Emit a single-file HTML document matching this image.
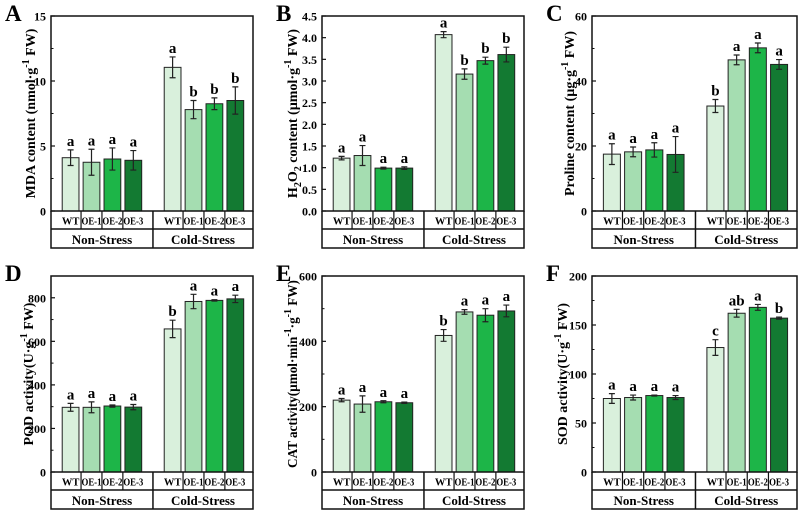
<!DOCTYPE html>
<html><head><meta charset="utf-8">
<style>
html,body{margin:0;padding:0;background:#fff;}
svg{display:block;font-family:"Liberation Serif",serif;font-weight:bold;}
</style></head>
<body>
<svg id="fig" width="799" height="518" viewBox="0 0 799 518"></svg>
<script>
const genotypes = ["WT","OE-1","OE-2","OE-3"];
const conditions = ["Non-Stress","Cold-Stress"];
const colors = ["#d9f0dc","#a5ddb1","#1db548","#137a32"];

const mdaValues = [[4.1,3.75,4.0,3.9],[11.05,7.8,8.25,8.5]];
const mdaErrors = [[0.6,1.0,0.85,0.75],[0.8,0.7,0.45,1.05]];
const mdaLetters = [["a","a","a","a"],["a","b","b","b"]];
const mdaTicks = [0,5,10,15];

const h2o2Values = [[1.22,1.28,0.99,0.99],[4.07,3.16,3.47,3.61]];
const h2o2Errors = [[0.04,0.23,0.02,0.03],[0.07,0.12,0.08,0.17]];
const h2o2Letters = [["a","a","a","a"],["a","b","b","b"]];
const h2o2Ticks = [0,0.5,1,1.5,2,2.5,3,3.5,4,4.5];

const prolineValues = [[17.5,18.2,18.8,17.4],[32.3,46.5,50.2,45.1]];
const prolineErrors = [[3.2,1.5,2.2,5.5],[2.0,1.5,1.5,1.5]];
const prolineLetters = [["a","a","a","a"],["b","a","a","a"]];
const prolineTicks = [0,20,40,60];

const podValues = [[297,297,303,298],[657,783,788,795]];
const podErrors = [[18,25,5,12],[40,33,3,17]];
const podLetters = [["a","a","a","a"],["b","a","a","a"]];
const podTicks = [0,200,400,600,800];

const catValues = [[220,208,215,212],[418,490,480,493]];
const catErrors = [[5,25,3,2],[18,7,20,18]];
const catLetters = [["a","a","a","a"],["b","a","a","a"]];
const catTicks = [0,200,400,600];

const sodValues = [[75,76,78,76],[127,162,168,157]];
const sodErrors = [[5,2.5,0.5,2],[8,4,3,1]];
const sodLetters = [["a","a","a","a"],["c","ab","a","b"]];
const sodTicks = [0,50,100,150,200];

const NS = "http://www.w3.org/2000/svg";
const svg = document.getElementById("fig");
function mk(tag, attrs, parent){
  const e = document.createElementNS(NS, tag);
  for (const k in attrs) e.setAttribute(k, attrs[k]);
  (parent||svg).appendChild(e);
  return e;
}

const panels = [
  {id:"a", letter:"A", L:51, R:253, T:16, B:211, max:15, ticks:mdaTicks, minor:2.5, dec:0, vals:mdaValues, errs:mdaErrors, lets:mdaLetters, lx:35, fs:14, label:"MDA  content (nmol·g"},
  {id:"b", letter:"B", L:322, R:524, T:16, B:211, max:4.5, ticks:h2o2Ticks, minor:0, dec:1, vals:h2o2Values, errs:h2o2Errors, lets:h2o2Letters, lx:297, fs:14, h2o2:true},
  {id:"c", letter:"C", L:592, R:797, T:16, B:211, max:60, ticks:prolineTicks, minor:10, dec:0, vals:prolineValues, errs:prolineErrors, lets:prolineLetters, lx:574, fs:14, label:"Proline  content (µg·g"},
  {id:"d", letter:"D", L:51, R:253, T:276, B:472, max:900, ticks:podTicks, minor:100, dec:0, vals:podValues, errs:podErrors, lets:podLetters, lx:33, fs:14, label:"POD activity(U·g"},
  {id:"e", letter:"E", L:322, R:524, T:276, B:472, max:600, ticks:catTicks, minor:100, dec:0, vals:catValues, errs:catErrors, lets:catLetters, lx:297, fs:13.2, cat:true},
  {id:"f", letter:"F", L:592, R:797, T:276, B:472, max:200, ticks:sodTicks, minor:25, dec:0, vals:sodValues, errs:sodErrors, lets:sodLetters, lx:567, fs:14, label:"SOD activity(U·g"}
];

panels.forEach(p=>{
  const g = mk("g",{});
  
  
  const W = p.R - p.L;
  const y = v => p.B - (v/p.max)*(p.B-p.T);
  const cx = (gi,i) => p.L + W*(0.097 + 0.1035*i + 0.505*gi);
  const bw = W*0.083;

  const pl = mk("text",{x:p.L-46, y:p.T+5, "font-size":23}, g);
  pl.textContent = p.letter;
  
  

  for (let gi=0; gi<2; gi++){
    for (let i=0;i<4;i++){
      const v = p.vals[gi][i], e = p.errs[gi][i], c = cx(gi,i);
      const r = mk("rect",{x:c-bw/2, y:y(v), width:bw, height:p.B-y(v), fill:colors[i], stroke:"#222", "stroke-width":1}, g);
      
      
      const eb = mk("path",{d:`M${c},${y(v-e)}V${y(v+e)}M${c-3},${y(v-e)}H${c+3}M${c-3},${y(v+e)}H${c+3}`, stroke:"#222", "stroke-width":1.2, fill:"none"}, g);
      
      
      const lt = mk("text",{x:c, y:y(v+e)-4, "text-anchor":"middle", "font-size":15}, g);
      lt.textContent = p.lets[gi][i];
      
      
    }
  }

  const fr = mk("rect",{x:p.L, y:p.T, width:W, height:p.B-p.T, fill:"none", stroke:"#111", "stroke-width":1.5}, g);
  
  

  p.ticks.forEach(t=>{
    mk("line",{x1:p.L, x2:p.L+4, y1:y(t), y2:y(t), stroke:"#111", "stroke-width":1.2}, g);
    const tl = mk("text",{x:p.L-5, y:y(t)+4.5, "text-anchor":"end", "font-size":12}, g);
    tl.textContent = t.toFixed(p.dec);
    
    
  });
  if (p.minor){
    for (let m=p.minor; m<p.max; m+=p.minor){
      if (p.ticks.some(t=>Math.abs(t-m)<1e-6)) continue;
      mk("line",{x1:p.L, x2:p.L+2.5, y1:y(m), y2:y(m), stroke:"#111", "stroke-width":1}, g);
    }
  }

  const r1 = p.B + 18, r2 = p.B + 37;
  const tb = mk("path",{d:`M${p.L},${p.B}V${r2}H${p.R}V${p.B}M${p.L},${r1}H${p.R}`, stroke:"#111", "stroke-width":1.5, fill:"none"}, g);
  
  
  const mid = (cx(0,3)+cx(1,0))/2;
  mk("line",{x1:mid, x2:mid, y1:p.B, y2:r2, stroke:"#111", "stroke-width":1.5}, g);
  for (let gi=0; gi<2; gi++){
    for (let i=0;i<4;i++){
      if (i<3){
        const bx = (cx(gi,i)+cx(gi,i+1))/2;
        mk("line",{x1:bx, x2:bx, y1:p.B, y2:r1, stroke:"#111", "stroke-width":1.2}, g);
      }
      const attrs = {x:cx(gi,i), y:p.B+13.5, "text-anchor":"middle", "font-size":10.5};
      if (genotypes[i].length>2){ attrs.textLength = 20; attrs.lengthAdjust = "spacingAndGlyphs"; }
      const gt = mk("text", attrs, g);
      gt.textContent = genotypes[i];
      
      
    }
    const gx = gi===0 ? (p.L+mid)/2 : (mid+p.R)/2;
    const ct = mk("text",{x:gx, y:p.B+33, "text-anchor":"middle", "font-size":13}, g);
    ct.textContent = conditions[gi];
    
    
  }

  const yc = (p.T+p.B)/2;
  const yt = mk("text",{transform:`translate(${p.lx},${yc}) rotate(-90)`, "text-anchor":"middle", "font-size":p.fs}, g);
  
  
  if (p.h2o2){
    yt.innerHTML = 'H<tspan font-size="10" dy="4">2</tspan><tspan dy="-4">O</tspan><tspan font-size="10" dy="4">2</tspan><tspan dy="-4">  content (µmol·g</tspan><tspan font-size="10" dy="-6">-1</tspan><tspan dy="6"> FW)</tspan>';
  } else if (p.cat){
    yt.innerHTML = 'CAT activity(µmol·min<tspan font-size="10" dy="-6">-1</tspan><tspan dy="6">·g</tspan><tspan font-size="10" dy="-6">-1</tspan><tspan dy="6"> FW)</tspan>';
  } else {
    yt.innerHTML = p.label + '<tspan font-size="10" dy="-6">-1</tspan><tspan dy="6"> FW)</tspan>';
  }
});
</script>
</body></html>
